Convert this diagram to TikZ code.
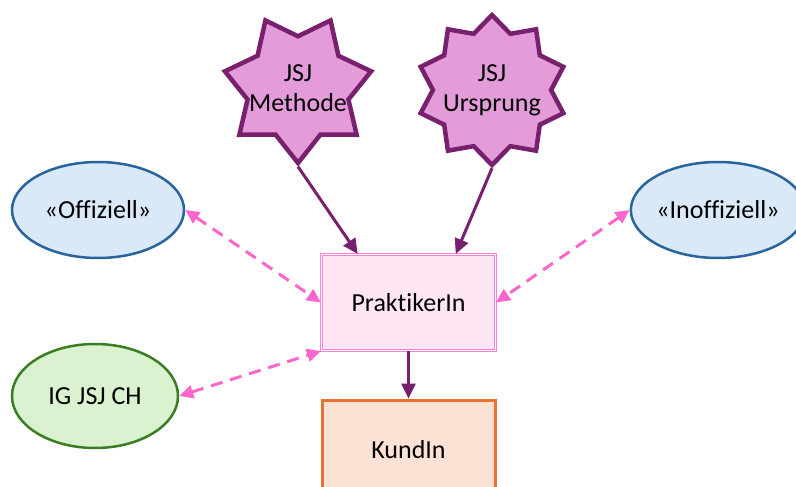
\documentclass[tikz,border=0pt]{standalone}
\usepackage{fontspec}
\setmainfont{Carlito}[Ligatures=NoCommon]
\usetikzlibrary{shapes.geometric,arrows.meta,calc}
\definecolor{starfill}{HTML}{E39BDA}
\definecolor{starline}{HTML}{78206E}
\definecolor{bluefill}{HTML}{DAE9F8}
\definecolor{blueline}{HTML}{2A649E}
\definecolor{greenfill}{HTML}{DAF2D0}
\definecolor{greenline}{HTML}{3B7D23}
\definecolor{dashpink}{HTML}{FF66CC}
\definecolor{pfill}{HTML}{FFE6F5}
\definecolor{pline}{HTML}{FF80D8}
\definecolor{kfill}{HTML}{FBE2D5}
\definecolor{kline}{HTML}{E97132}
\tikzset{
  txt/.style={font=\fontsize{26}{30}\selectfont, align=center},
  starnode/.style={star, draw=starline, fill=starfill, line width=4.5pt, inner sep=0pt, minimum size=150pt},
  ovalnode/.style={ellipse, line width=2.5pt, inner sep=0pt, minimum width=172pt, minimum height=96pt, txt},
  purplearrow/.style={draw=starline, line width=3pt, -{Triangle[length=15pt,width=14pt]}},
  pinkarrow/.style={draw=dashpink, line width=3pt, dash pattern=on 12pt off 8pt, {Triangle[length=14pt,width=13pt]}-{Triangle[length=14pt,width=13pt]}}
}
\begin{document}
\begin{tikzpicture}[x=1pt,y=-1pt]
\useasboundingbox (0,0) rectangle (796,487);
\node[starnode, star points=7, star point ratio=1.45, shape border rotate=180,
      label={[txt]center:JSJ\\Methode}] (meth) at (298,88) {};
\node[starnode, star points=10, star point ratio=1.27,
      label={[txt]center:JSJ\\Ursprung}] (ursp) at (492,90) {};
\node[ovalnode, draw=blueline, fill=bluefill] (off) at (98,210) {«Offiziell»};
\node[ovalnode, draw=blueline, fill=bluefill] (inoff) at (718,210) {«Inoffiziell»};
\node[ovalnode, draw=greenline, fill=greenfill, minimum width=166pt, minimum height=104pt] (ig) at (95,396) {IG JSJ CH};
\node[txt, draw=pline, double=white, double distance=1.6pt, line width=1.1pt, fill=pfill,
      minimum width=174pt, minimum height=96pt, inner sep=0pt] (prak) at (408.5,302.5) {PraktikerIn};
\node[txt, draw=kline, fill=kfill, line width=3pt, minimum width=173pt, minimum height=100pt, inner sep=0pt] (kund) at (408.5,450) {KundIn};
\draw[purplearrow] (meth.outer point 1) -- ($(prak.north west)!0.21!(prak.north east)$);
\draw[purplearrow] (ursp.outer point 6) -- ($(prak.north west)!0.77!(prak.north east)$);
\draw[purplearrow] (prak.south) -- (kund.north);
\draw[pinkarrow] (off.east) -- (prak.west);
\draw[pinkarrow] (inoff.west) -- (prak.east);
\draw[pinkarrow] (ig.east) -- (prak.south west);
\end{tikzpicture}
\end{document}
